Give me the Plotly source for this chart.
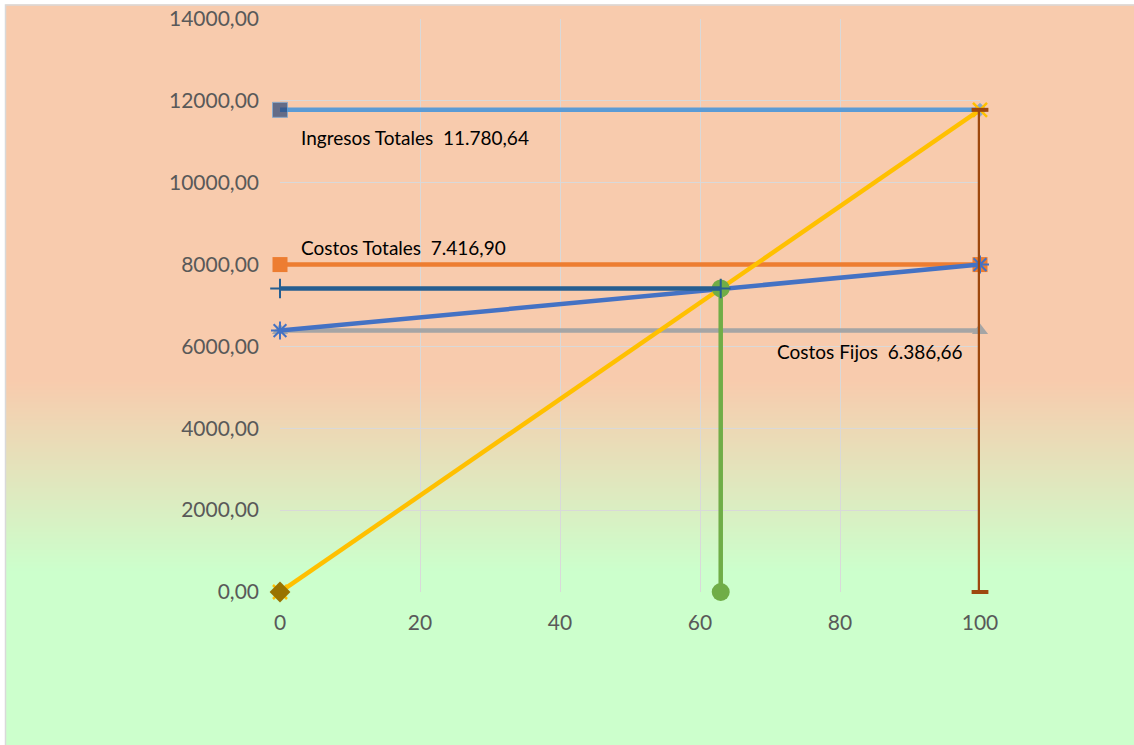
import plotly.graph_objects as go

# ---- data ----
ingresos_totales = 11780.64
costos_totales_pe = 7416.90
costos_fijos = 6386.66
costos_totales_100 = 8000.0
x_pe = 62.96
x_range = [0, 100]

label_ingresos = "Ingresos Totales  11.780,64"
label_costos_tot = "Costos Totales  7.416,90"
label_costos_fij = "Costos Fijos  6.386,66"

x_ticks = [0, 20, 40, 60, 80, 100]
y_ticks = [0, 2000, 4000, 6000, 8000, 10000, 12000, 14000]

W, H = 1134, 745
L, R, T, B = 280, 154, 19, 153
PW, PH = W - L - R, H - T - B


def px_x(p):
    return (p - L) / PW


def px_y(p):
    return (H - B - p) / PH


LW = 4.5
fig = go.Figure()

# grey fixed costs
fig.add_trace(go.Scatter(x=x_range, y=[costos_fijos, costos_fijos], mode="lines+markers",
                         line=dict(color="#A5A5A5", width=LW), cliponaxis=False,
                         marker=dict(symbol="triangle-up", size=14, color="#A5A5A5")))
# orange total costs level
fig.add_trace(go.Scatter(x=x_range, y=[costos_totales_100, costos_totales_100], mode="lines+markers",
                         line=dict(color="#ED7D31", width=LW), cliponaxis=False,
                         marker=dict(symbol="square", size=15, color="#ED7D31")))
# blue total cost line
fig.add_trace(go.Scatter(x=x_range, y=[costos_fijos, costos_totales_100], mode="lines+markers",
                         line=dict(color="#4472C4", width=LW), cliponaxis=False,
                         marker=dict(symbol="asterisk-open", size=15, line=dict(color="#4472C4", width=2))))
# income level
fig.add_trace(go.Scatter(x=x_range, y=[ingresos_totales, ingresos_totales], mode="lines+markers",
                         line=dict(color="#5B9BD5", width=LW), cliponaxis=False,
                         marker=dict(symbol=["square", "diamond"], size=[15, 10],
                                     color=["#264478", "#5B9BD5"])))
# yellow income line
fig.add_trace(go.Scatter(x=x_range, y=[0, ingresos_totales], mode="lines+markers",
                         line=dict(color="#FFC000", width=LW), cliponaxis=False,
                         marker=dict(symbol="x-thin-open", size=14, line=dict(color="#FFC000", width=2.5))))
# olive diamond at origin
fig.add_trace(go.Scatter(x=[0], y=[0], mode="markers", cliponaxis=False,
                         marker=dict(symbol="diamond", size=16, color="#997300")))
# brown vertical at 100
fig.add_trace(go.Scatter(x=[100, 100], y=[0, ingresos_totales], mode="lines+markers",
                         line=dict(color="#9E480E", width=LW), cliponaxis=False,
                         marker=dict(symbol="line-ew-open", size=12, line=dict(color="#9E480E", width=4))))
# green vertical at break-even
fig.add_trace(go.Scatter(x=[x_pe, x_pe], y=[0, costos_totales_pe], mode="lines+markers",
                         line=dict(color="#70AD47", width=LW), cliponaxis=False,
                         marker=dict(symbol="circle", size=18, color="#70AD47")))
# dark blue horizontal to break-even
fig.add_trace(go.Scatter(x=[0, x_pe], y=[costos_totales_pe, costos_totales_pe], mode="lines+markers",
                         line=dict(color="#255E91", width=LW), cliponaxis=False,
                         marker=dict(symbol="cross-thin-open", size=14, line=dict(color="#255E91", width=2))))

# ---- background gradient ----
shapes = []
top_c = (248, 203, 173)
bot_c = (204, 255, 204)
g0, g1 = 380, 570
shapes.append(dict(type="rect", xref="paper", yref="paper", layer="below",
                   x0=px_x(0), x1=px_x(W + 10), y0=px_y(-10), y1=px_y(g0 + 1),
                   line=dict(width=0), fillcolor="rgb(%d,%d,%d)" % top_c))
shapes.append(dict(type="rect", xref="paper", yref="paper", layer="below",
                   x0=px_x(0), x1=px_x(W + 10), y0=px_y(g1 - 1), y1=px_y(H + 10),
                   line=dict(width=0), fillcolor="rgb(%d,%d,%d)" % bot_c))
step = 2
p = g0
while p < g1:
    t = (p - g0) / (g1 - g0)
    c = tuple(round(top_c[i] + (bot_c[i] - top_c[i]) * t) for i in range(3))
    shapes.append(dict(type="rect", xref="paper", yref="paper", layer="below",
                       x0=px_x(0), x1=px_x(W + 10), y0=px_y(p + step + 1), y1=px_y(p),
                       line=dict(width=0), fillcolor="rgb(%d,%d,%d)" % c))
    p += step
# white margin at left/top and border
shapes.append(dict(type="rect", xref="paper", yref="paper", layer="below",
                   x0=px_x(-5), x1=px_x(5.5), y0=px_y(H + 10), y1=px_y(-10),
                   line=dict(width=0), fillcolor="white"))
shapes.append(dict(type="rect", xref="paper", yref="paper", layer="below",
                   x0=px_x(-5), x1=px_x(W + 10), y0=px_y(4.5), y1=px_y(-10),
                   line=dict(width=0), fillcolor="white"))
shapes.append(dict(type="rect", xref="paper", yref="paper", layer="below",
                   x0=px_x(5.5), x1=px_x(W + 20), y0=px_y(H + 20), y1=px_y(5),
                   line=dict(width=1.5, color="#D9D9D9"), fillcolor="rgba(0,0,0,0)"))

ann_font = dict(family="Lato, Calibri, sans-serif", size=19, color="#000000")
annotations = [
    dict(x=2.7, y=11117, xref="x", yref="y", text=label_ingresos, showarrow=False,
         xanchor="left", yanchor="middle", font=ann_font),
    dict(x=2.7, y=8429, xref="x", yref="y", text=label_costos_tot, showarrow=False,
         xanchor="left", yanchor="middle", font=ann_font),
    dict(x=97.9, y=5864, xref="x", yref="y", text=label_costos_fij, showarrow=False,
         xanchor="right", yanchor="middle", font=ann_font),
]

tick_font = dict(family="Lato, Calibri, sans-serif", size=21, color="#595959")
fig.update_layout(
    width=W, height=H,
    margin=dict(l=L, r=R, t=T, b=B, pad=0),
    paper_bgcolor="rgba(0,0,0,0)", plot_bgcolor="rgba(0,0,0,0)",
    showlegend=False,
    separators=",.",
    shapes=shapes,
    annotations=annotations,
    xaxis=dict(range=[0, 100], tickvals=x_ticks, showgrid=True, gridcolor="#D9D9D9", gridwidth=1,
               zeroline=False, showline=False, tickfont=tick_font, ticklabelstandoff=16,
               fixedrange=True, automargin=False),
    yaxis=dict(range=[0, 14000], tickvals=y_ticks, tickformat=".2f", showgrid=True,
               gridcolor="#D9D9D9", gridwidth=1, zeroline=False, showline=False,
               tickfont=tick_font, ticklabelstandoff=20, fixedrange=True, automargin=False),
)

fig.write_html("out.html")
